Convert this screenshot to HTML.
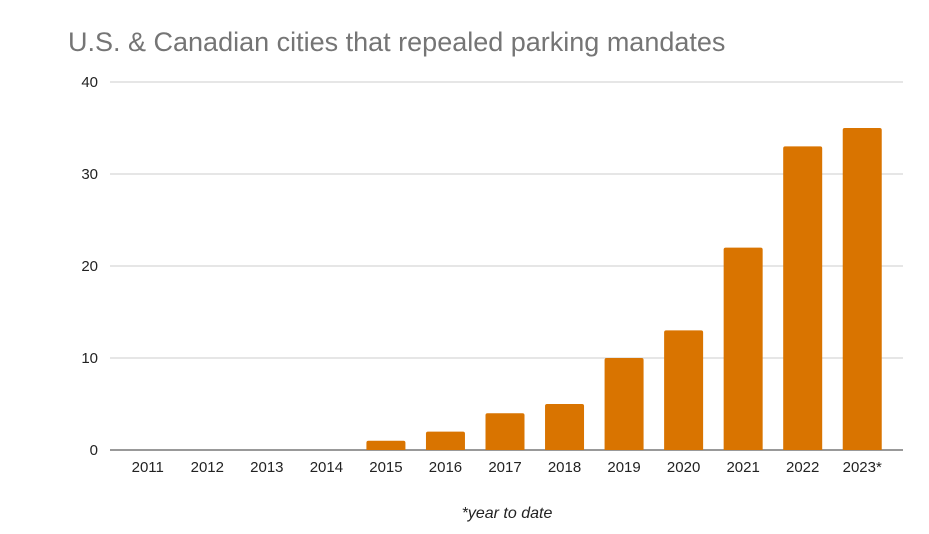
<!DOCTYPE html>
<html><head><meta charset="utf-8"><style>
html,body{margin:0;padding:0;background:#fff;}
svg{display:block;font-family:"Liberation Sans",Arial,sans-serif;}
</style></head><body>
<svg id="chart" width="929" height="534" viewBox="0 0 929 534">
<rect width="929" height="534" fill="#fff"/>
<text x="68" y="51" font-size="27" fill="#757575">U.S. &amp; Canadian cities that repealed parking mandates</text>
<g id="grid"></g><g id="bars"></g><g id="xlabels"></g><g id="ylabels"></g>
<text x="507" y="518" font-size="16" font-style="italic" fill="#222" text-anchor="middle">*year to date</text>
</svg>
<script>
const categories = ["2011","2012","2013","2014","2015","2016","2017","2018","2019","2020","2021","2022","2023*"];
const values = [0,0,0,0,1,2,4,5,10,13,22,33,35];
const yTicks = [0,10,20,30,40];
const NS="http://www.w3.org/2000/svg";
const x0=118,x1=892,yBase=450,yTop=82,yMax=40;
const step=(x1-x0)/categories.length, bw=39;
const y=v=>yBase-(v/yMax)*(yBase-yTop);
const xc=i=>x0+step*(i+0.5);
function mk(tag,attrs,parent){const e=document.createElementNS(NS,tag);for(const k in attrs)e.setAttribute(k,attrs[k]);document.getElementById(parent).appendChild(e);return e;}
yTicks.forEach(t=>{
  const l=mk("line",{x1:110,x2:903,y1:y(t),y2:y(t),stroke:t===0?"#333":"#ccc","stroke-width":1},"grid");
  
  
  const tx=mk("text",{x:98,y:y(t)+5,"font-size":15,fill:"#222","text-anchor":"end"},"ylabels");
  tx.textContent=t;
  
  
});
categories.forEach((c,i)=>{
  const v=values[i];
  if(v>0){
    const top=y(v),h=yBase-top,r=2,xl=xc(i)-bw/2;
    const p=mk("path",{d:`M${xl},${yBase} V${top+r} Q${xl},${top} ${xl+r},${top} H${xl+bw-r} Q${xl+bw},${top} ${xl+bw},${top+r} V${yBase} Z`,fill:"#d97400"},"bars");
    
    
  }
  const t=mk("text",{x:xc(i),y:472,"font-size":15,fill:"#222","text-anchor":"middle"},"xlabels");
  t.textContent=c;
  
  
});
</script>
</body></html>
